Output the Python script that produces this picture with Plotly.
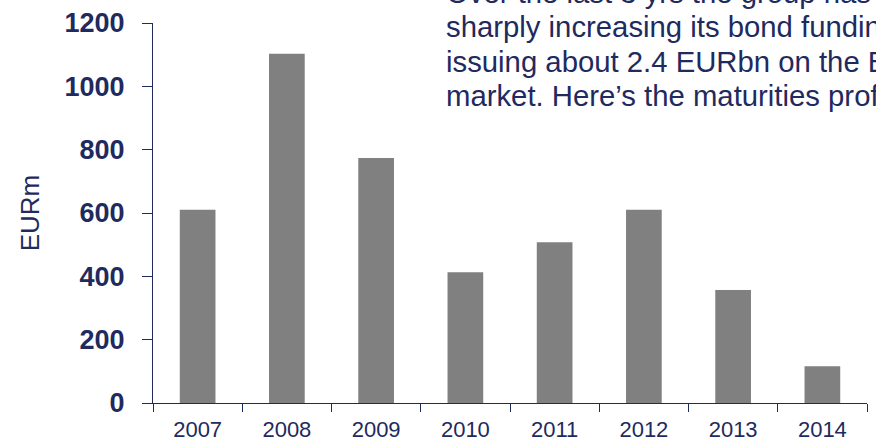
import plotly.graph_objects as go

# Bond maturities by year (EURm)
years = ["2007", "2008", "2009", "2010", "2011", "2012", "2013", "2014"]
maturities = [610, 1103, 774, 413, 508, 610, 357, 116]

y_ticks = [0, 200, 400, 600, 800, 1000, 1200]

commentary = [
    "Over the last 3 yrs the group has been",
    "sharply increasing its bond funding,",
    "issuing about 2.4 EURbn on the Euro",
    "market. Here\u2019s the maturities profile.",
]
# vertical centre of each commentary line, as a fraction of the plot height
commentary_y = [1.0803, 0.9895, 0.8987, 0.8079]

NAVY = "#1F2A5E"
FONT = "Liberation Sans, Arial, sans-serif"

fig = go.Figure(
    go.Bar(
        x=years,
        y=maturities,
        marker=dict(color="#808080", line=dict(width=0)),
    )
)

for line, yv in zip(commentary, commentary_y):
    fig.add_annotation(
        text=line,
        xref="paper", x=0.409, xanchor="left",
        yref="paper", y=yv, yanchor="middle",
        showarrow=False, borderpad=0,
        font=dict(family=FONT, size=29.3, color=NAVY),
    )

fig.update_layout(
    width=876, height=443,
    margin=dict(l=153, r=9, t=23, b=40, autoexpand=False),
    paper_bgcolor="white", plot_bgcolor="white",
    bargap=0.6,
    showlegend=False,
    font=dict(family=FONT, color=NAVY),
    xaxis=dict(
        type="category",
        automargin=False,
        showline=True, linecolor=NAVY, linewidth=1,
        ticks="outside", tickson="boundaries", ticklen=8, tickcolor=NAVY, tickwidth=1,
        tickfont=dict(family=FONT, size=22, color=NAVY),
        ticklabelstandoff=7,
        showgrid=False, zeroline=False,
    ),
    yaxis=dict(
        range=[0, 1200],
        automargin=False,
        tickvals=y_ticks,
        ticktext=[f"<b>{v}</b>" for v in y_ticks],
        showline=True, linecolor=NAVY, linewidth=1,
        ticks="outside", ticklen=10, tickcolor=NAVY, tickwidth=1,
        tickfont=dict(family=FONT, size=27, color=NAVY),
        ticklabelstandoff=12,
        showgrid=False, zeroline=False,
        title=dict(text="EURm", font=dict(family=FONT, size=26, color=NAVY), standoff=17),
    ),
)

fig.write_html("out.html")
